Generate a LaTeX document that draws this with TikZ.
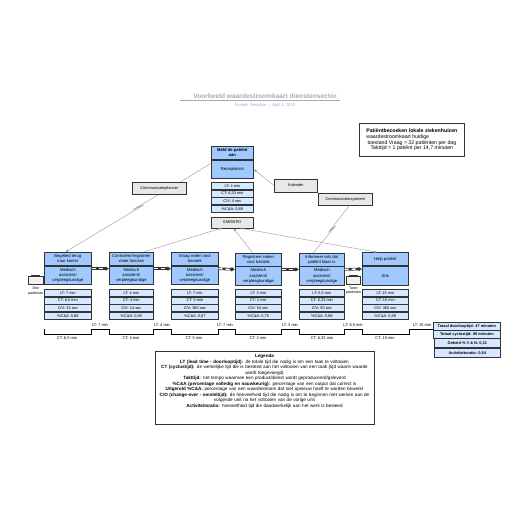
\documentclass[tikz,border=0pt]{standalone}
\usepackage{fontspec}
\setmainfont{Liberation Sans}
\definecolor{vsmblue}{RGB}{159,201,255}
\definecolor{vsmlight}{RGB}{214,232,255}
\definecolor{vsmgray}{RGB}{232,232,232}
\definecolor{vsmline}{RGB}{51,51,51}
\definecolor{vsmlink}{RGB}{150,150,150}
\definecolor{vsmtitle}{RGB}{165,170,185}
\usetikzlibrary{arrows.meta,positioning,calc}
\tikzset{
  cell/.style={draw=vsmline,line width=0.7pt,inner sep=0pt,align=center,font=\fontsize{4.2}{5.2}\selectfont},
  procbox/.style={cell,fill=vsmblue},
  databox/.style={cell,fill=vsmlight,font=\fontsize{3.9}{4.6}\selectfont},
  toolbox/.style={cell,fill=vsmgray,font=\fontsize{3.9}{4.6}\selectfont},
  link/.style={vsmlink,line width=0.4pt,-{Latex[length=3pt,width=2.5pt]}},
  plain/.style={vsmlink,line width=0.4pt},
  pushbar/.style={line width=2.6pt,vsmline,-{Latex[length=3.5pt,width=5pt]}},
  pushdash/.style={line width=1.3pt,white,dash pattern=on 4pt off 3pt},
  steps/.style={draw=black,line width=0.6pt},
  lab/.style={inner sep=0pt,align=center,font=\fontsize{4}{4.8}\selectfont}
}
% one process: name, width from left and right, top, then the four data rows
\newcommand{\procstep}[9]{%
  \node[procbox,anchor=north west,minimum width=#3pt-#2pt,minimum height=13pt] (#1t) at (#2,#4) {#5};
  \node[procbox,anchor=north,minimum width=#3pt-#2pt,minimum height=18.5pt] (#1b) at (#1t.south) {#6};
  \node[databox,anchor=north west,minimum width=#3pt-#2pt,minimum height=7pt] (#1r1) at (#2,#7) {LT: #8};
  \node[databox,anchor=north,minimum width=#3pt-#2pt,minimum height=7pt] (#1r2) at (#1r1.south) {CT: #9};
}
\newcommand{\datarows}[3]{%
  \node[databox,anchor=north,minimum width=\pgfkeysvalueof{/vsm/w}pt,minimum height=7pt] (#1r3) at (#1r2.south) {C/V: #2};
  \node[databox,anchor=north,minimum width=\pgfkeysvalueof{/vsm/w}pt,minimum height=7pt] (#1r4) at (#1r3.south) {\%C\&A: #3};
}
\pgfkeys{/vsm/w/.initial=46}
\begin{document}
\begin{tikzpicture}[x=1pt,y=-1pt]
  \useasboundingbox (0,0) rectangle (516,516);
  % title
  \node[lab,font=\fontsize{6.6}{7.5}\selectfont\bfseries,vsmtitle] (title) at (265,96) {Voorbeeld waardestroomkaart dienstensector};
  \coordinate (titlel) at (180,100.5);
  \coordinate (titler) at (340,100.5);
  \draw[vsmtitle,line width=0.5pt] (titlel)--(titler);
  \node[lab,font=\fontsize{4.1}{5}\selectfont,vsmtitle] (sub) at (265,105.5) {System Template \ | \ April 4, 2015};
  % customer box
  \node[cell,fill=white,anchor=north west,minimum width=105pt,minimum height=33pt,font=\fontsize{5.2}{6.3}\selectfont] (info) at (359,123) {%
    \begin{tabular}{@{}c@{}}\multicolumn{1}{@{}l@{}}{\bfseries Patiëntbezoeken lokale ziekenhuizen}\\[-0.5pt]
    \multicolumn{1}{@{}l@{}}{waardestroomkaart huidige}\\[-0.5pt]
    toestand Vraag = 32 patiënten per dag\\[-0.5pt]
    Takttijd = 1 patiënt per 14,7 minuten\end{tabular}};
  % top step
  \procstep{m}{211}{253}{146}{\textbf{Meld de patiënt}\\\textbf{aan}}{Receptionist}{182}{4 min}{6,33 min}
  \pgfkeys{/vsm/w=42}\datarows{m}{4 sec}{0,88}
  % tools
  \node[toolbox,anchor=north west,minimum width=54pt,minimum height=12pt] (plan) at (132,182) {Communicatieplanner};
  \node[toolbox,anchor=north west,minimum width=43pt,minimum height=13pt] (kal) at (274,178.5) {Kalender};
  \node[toolbox,anchor=north west,minimum width=54pt,minimum height=12pt] (sys) at (318,193) {Communicatiesysteem};
  \node[toolbox,anchor=north west,minimum width=42pt,minimum height=10.5pt] (emr) at (211,217) {EMR/EPD};
  % process row
  \procstep{a}{44}{91}{252}{Begeleid terug\\naar kamer}{Medisch\\assistent/\\verpleegkundige}{289}{7 min}{6,5 min}
  \pgfkeys{/vsm/w=47}\datarows{a}{15 sec}{0,88}
  \procstep{b}{109}{153}{252}{Controleer/registreer\\vitale functies}{Medisch\\assistent/\\verpleegkundige}{289}{4 min}{4 min}
  \pgfkeys{/vsm/w=44}\datarows{b}{14 sec}{0,95}
  \procstep{c}{171}{218}{252}{Vraag reden voor\\bezoek}{Medisch\\assistent/\\verpleegkundige}{289}{7 min}{5 min}
  \pgfkeys{/vsm/w=47}\datarows{c}{360 sec}{0,87}
  \procstep{d}{235}{281}{252.7}{Registreer reden\\voor bezoek}{Medisch\\assistent/\\verpleegkundige}{289}{3 min}{2 min}
  \pgfkeys{/vsm/w=46}\datarows{d}{54 sec}{0,75}
  \procstep{e}{299}{344}{252.7}{Informeer arts dat\\patiënt klaar is}{Medisch\\assistent/\\verpleegkundige}{289}{6,5 min}{6,33 min}
  \pgfkeys{/vsm/w=45}\datarows{e}{50 sec}{0,89}
  \procstep{f}{362}{408}{252.3}{Help patiënt}{Arts}{289}{15 min}{15 min}
  \pgfkeys{/vsm/w=46}\datarows{f}{360 sec}{0,99}
  % push arrows
  \foreach \from/\to in {a/b,b/c,c/d,d/e,e/f}{
    \coordinate (p\from) at ($(\from t.south east)+(0,3)$);
    \coordinate (q\from) at ($(\to t.south west)+(0,3)$);
    \draw[pushbar] (p\from) -- (q\from);
    \draw[pushdash] (p\from) -- ($(q\from)+(-4,0)$);
  }
  % links
  \draw[plain] ($(mb.west)+(0,-6)$) -- ($(plan.north)+(21,0)$);
  \draw[link] (kal.west) -- (mb.east);
  \coordinate (pc) at ($(plan.south)+(-1,0)$);
  \coordinate (pa) at (132.6,209.9);
  \coordinate (pb) at (143.4,205.1);
  \draw[plain] (pc) -- (pa) -- (pb);
  \draw[link] (pb) -- ($(at.north)+(-2.5,0)$);
  \coordinate (ps) at ($(sys.south)+(4,0)$);
  \coordinate (pe) at (328.4,232.4);
  \coordinate (pf) at (335.6,226);
  \draw[plain] (ps) -- (pe) -- (pf);
  \draw[plain] (pf) -- ($(et.north)+(-8.5,0)$);
  \draw[link] ($(bt.north)+(12,0)$) -- ($(emr.south)+(-11,0)$);
  \draw[link] ($(dt.north)+(-6,0)$) -- ($(emr.south)+(1,0)$);
  \draw[link] ($(emr.south)+(8,0)$) -- ($(ft.north)+(-8,0)$);
  % inventory
  \node[cell,fill=vsmgray!60,anchor=north west,minimum width=15pt,minimum height=8pt] (inva) at (28,276) {};
  \node[inner sep=0pt,fill=vsmline,anchor=south,minimum width=9pt,minimum height=1.2pt] (capa) at (inva.north) {};
  \node[lab,font=\fontsize{3.6}{4.5}\selectfont,below=2pt of inva.south] (invalab) {Drie\\patiënten};
  \node[cell,fill=vsmgray!60,anchor=north west,minimum width=14pt,minimum height=8pt] (invb) at (346,276) {};
  \node[inner sep=0pt,fill=vsmline,anchor=south,minimum width=9pt,minimum height=1.2pt] (capb) at (invb.north) {};
  \node[lab,font=\fontsize{3.6}{4.5}\selectfont,below=2pt of invb.south] (invblab) {Twee\\patiënten};
  % timeline
  \coordinate (tend) at (433,329);
  \draw[steps] (44,329)--(44,334)--(91,334)--(91,329)--(109,329)--(109,334)--(153,334)--(153,329)--(171,329)--(171,334)--(218,334)--(218,329)--(235,329)--(235,334)--(281,334)--(281,329)--(299,329)--(299,334)--(344,334)--(344,329)--(362,329)--(362,334)--(409,334)--(409,329)--(tend);
  \foreach \x/\t in {100/7 min,162/4 min,225/7 min,290/3 min,353/{6,5 min},422/15 min}
    \node[lab] (lt\x) at (\x,325.3) {LT: \t};
  \foreach \x/\t in {67/{6,5 min},131/4 min,194/5 min,258/2 min,322/{6,33 min},385/15 min}
    \node[lab] (ct\x) at (\x,338.5) {CT: \t};
  % totals
  \node[databox,anchor=north west,minimum width=67pt,minimum height=7.5pt] (tot1) at (433,322) {\textbf{Totaal doorlooptijd: 47 minuten}};
  \node[databox,anchor=north,minimum width=67pt,minimum height=7.5pt] (tot2) at (tot1.south) {\textbf{Totaal cyclustijd: 85 minuten}};
  \node[databox,anchor=north,minimum width=66pt,minimum height=9pt] (tot3) at ($(tot2.south)+(0.5,0)$) {\textbf{Geheid \% V \& N: 0,31}};
  \node[databox,anchor=north,minimum width=66pt,minimum height=9pt] (tot4) at (tot3.south) {\textbf{Activiteitsratio: 0,54}};
  % legend
  \node[cell,fill=white,anchor=north,minimum width=219pt,minimum height=73pt] (legend) at (264.5,351) {};
  \node[lab,anchor=north,text width=214pt,font=\fontsize{4.6}{5.55}\selectfont] (legendtext) at ($(legend.north)+(0,3)$) {%
    \textbf{Legenda}\\
    \textbf{LT (lead time - doorlooptijd):} de totale tijd die nodig is om een taak te voltooien\\
    \textbf{CT (cyclustijd):} de werkelijke tijd die is besteed aan het voltooien van een taak (tijd waarin waarde\\ wordt toegevoegd)\\
    \textbf{Takttijd:} het tempo waarmee een product/dienst wordt geproduceerd/geleverd\\
    \textbf{\%C\&A (percentage volledig en nauwkeurig):} percentage van een output dat correct is\\
    \textbf{Uitgerold \%C\&A:} percentage van een waardestroom dat niet opnieuw hoeft te worden bewerkt\\
    \textbf{C/O (change-over - omsteltijd):} de hoeveelheid tijd die nodig is om te beginnen met werken aan de\\ volgende unit na het voltooien van de vorige unit\\
    \textbf{Activiteitsratio:} hoeveelheid tijd die daadwerkelijk aan het werk is besteed};
\end{tikzpicture}
\end{document}
